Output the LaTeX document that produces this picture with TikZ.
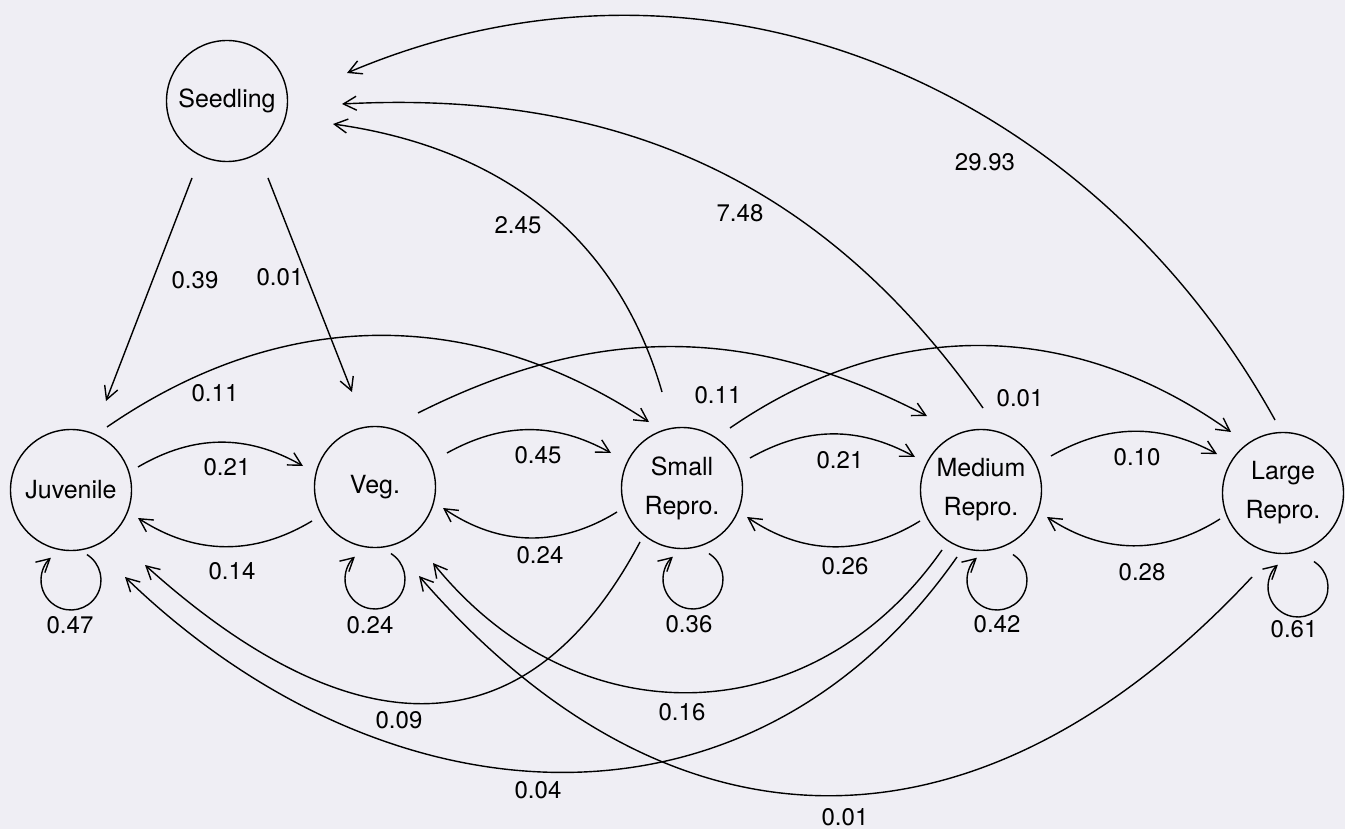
\documentclass[tikz,border=0pt]{standalone}
\usepackage{fontspec}
\setmainfont{TeX Gyre Heros}
\usetikzlibrary{arrows.meta,calc}
\definecolor{bg}{RGB}{239,238,244}
\begin{document}
\begin{tikzpicture}[x=1pt,y=1pt,
  state/.style={draw, circle, minimum size=121pt, inner sep=0pt, line width=1.4pt, font=\fontsize{25}{39}\selectfont, align=center},
  edge/.style={line width=1.4pt, -{Straight Barb[length=13pt,width=14pt,line width=1.4pt]}},
  lab/.style={font=\fontsize{24}{28}\selectfont, inner sep=0pt}
]
\fill[bg] (0,0) rectangle (1345,-829);
\useasboundingbox (0,0) rectangle (1345,-829);

\node[state] (S) at (227,-101) {Seedling};
\node[state] (J) at (71,-490) {Juvenile};
\node[state] (V) at (375,-487) {Veg.};
\node[state] (Sm) at (682,-488) {Small\\Repro.};
\node[state] (M) at (981,-490) {Medium\\Repro.};
\node[state] (L) at (1283,-493) {Large\\Repro.};

% from Seedling
\draw[edge] ($(S)+(-35,-77)$) -- ($(J)+(35,89)$);
\draw[edge] ($(S)+(41,-77)$) -- ($(V)+(-23,95)$);
% adjacent
\draw[edge] ($(J)+(67,23)$) to[bend left=30] ($(V)+(-72,21)$);
\draw[edge] ($(V)+(-63,-34)$) to[bend left=32] ($(J)+(67,-28)$);
\draw[edge] ($(V)+(72,34)$) to[bend left=29] ($(Sm)+(-71,35)$);
\draw[edge] ($(Sm)+(-65,-24)$) to[bend left=33] ($(V)+(68,-21)$);
\draw[edge] ($(Sm)+(68,30)$) to[bend left=29] ($(M)+(-66,33)$);
\draw[edge] ($(M)+(-61,-31)$) to[bend left=33] ($(Sm)+(65,-29)$);
\draw[edge] ($(M)+(70,34)$) to[bend left=29] ($(L)+(-66,39)$);
\draw[edge] ($(L)+(-63,-26)$) to[bend left=33] ($(M)+(66,-27)$);
% skip one
\draw[edge] ($(J)+(36,63)$) to[bend left=34] ($(Sm)+(-33,66)$);
\draw[edge] ($(V)+(43,74)$) to[bend left=27] ($(M)+(-54,74)$);
\draw[edge] ($(Sm)+(48,60)$) to[bend left=35] ($(L)+(-52,61)$);
% to Seedling
\draw[edge] ($(Sm)+(-20,96)$) to[out=106,in=-8] ($(S)+(106,-23)$);
\draw[edge] ($(M)+(2,82)$) to[out=125,in=3] ($(S)+(115,-3)$);
\draw[edge] ($(L)+(-8,73)$) to[out=119,in=23] ($(S)+(120,28)$);
% backward lower arcs
\draw[edge] ($(Sm)+(-42,-54)$) to[out=242,in=318,looseness=1.33] ($(J)+(74,-75)$);
\draw[edge] ($(M)+(-39,-60)$) to[out=235,in=309,looseness=1.14] ($(V)+(58,-76)$);
\draw[edge] ($(M)+(-24,-67)$) to[out=235,in=316,looseness=1.11] ($(J)+(54,-87)$);
\draw[edge] ($(L)+(-31,-84)$) to[out=227,in=311,looseness=1.21] ($(V)+(44,-89)$);
% self loops
\draw[edge] ($(J)+(0,-90)+(58:30)$) arc[start angle=58, end angle=-228, radius=30];
\draw[edge] ($(V)+(0,-92)+(58:30)$) arc[start angle=58, end angle=-228, radius=30];
\draw[edge] ($(Sm)+(11,-91)+(58:30)$) arc[start angle=58, end angle=-228, radius=30];
\draw[edge] ($(M)+(16,-90)+(58:30)$) arc[start angle=58, end angle=-228, radius=30];
\draw[edge] ($(L)+(15,-94)+(58:30)$) arc[start angle=58, end angle=-228, radius=30];

% labels
\node[lab] at (195,-280) {0.39};
\node[lab] at (280,-277) {0.01};
\node[lab] at (227,-467) {0.21};
\node[lab] at (232,-571) {0.14};
\node[lab] at (538,-455) {0.45};
\node[lab] at (540,-555) {0.24};
\node[lab] at (840,-460) {0.21};
\node[lab] at (845,-566) {0.26};
\node[lab] at (1137,-457) {0.10};
\node[lab] at (1142,-572) {0.28};
\node[lab] at (215,-393) {0.11};
\node[lab] at (718,-395) {0.11};
\node[lab] at (1020,-398) {0.01};
\node[lab] at (518,-225) {2.45};
\node[lab] at (740,-213) {7.48};
\node[lab] at (985,-162) {29.93};
\node[lab] at (399,-720) {0.09};
\node[lab] at (682,-712) {0.16};
\node[lab] at (538,-790) {0.04};
\node[lab] at (845,-817) {0.01};
\node[lab] at (70,-625) {0.47};
\node[lab] at (370,-625) {0.24};
\node[lab] at (689,-624) {0.36};
\node[lab] at (997,-624) {0.42};
\node[lab] at (1294,-629) {0.61};
\end{tikzpicture}
\end{document}
